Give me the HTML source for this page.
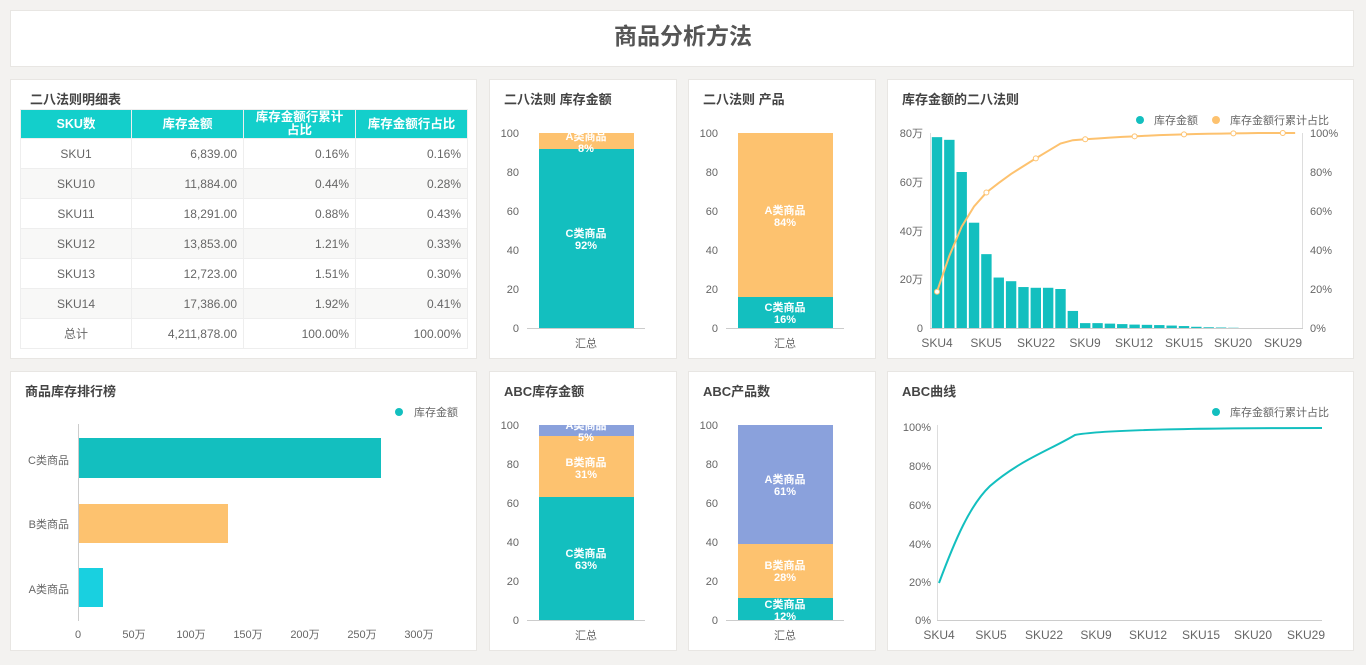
<!DOCTYPE html>
<html><head><meta charset="utf-8"><style>
*{margin:0;padding:0;box-sizing:border-box}
body{width:1366px;height:665px;background:#f3f2f0;font-family:"Liberation Sans","Noto Sans CJK SC",sans-serif;position:relative;overflow:hidden;color:#555}
.p{position:absolute;background:#fff;border:1px solid #e8e6e3}
.t{position:absolute;font-size:13px;font-weight:bold;color:#444}
svg{position:absolute;left:0;top:0}
table{position:absolute;left:20px;top:109px;width:447px;border-collapse:collapse;font-size:12px;color:#666;table-layout:fixed}
td,th{border:1px solid #eee;height:30px;padding:0 6px}
th{background:#13cfcb;color:#fff;font-size:12.5px;height:29px;line-height:13px;overflow:hidden}
th div{height:28px;overflow:hidden;padding-top:1px}
td{text-align:right}td:first-child{text-align:center}
tr:nth-child(odd) td{background:#f8f8f7}
</style></head><body>
<div class="p" style="left:10px;top:10px;width:1344px;height:57px"></div>
<div style="position:absolute;left:0;width:1366px;top:17px;text-align:center;font-size:23px;font-weight:bold;color:#555">商品分析方法</div>

<div class="p" style="left:10px;top:79px;width:467px;height:280px"></div>
<div class="p" style="left:489px;top:79px;width:188px;height:280px"></div>
<div class="p" style="left:688px;top:79px;width:188px;height:280px"></div>
<div class="p" style="left:887px;top:79px;width:467px;height:280px"></div>
<div class="p" style="left:10px;top:371px;width:467px;height:280px"></div>
<div class="p" style="left:489px;top:371px;width:188px;height:280px"></div>
<div class="p" style="left:688px;top:371px;width:188px;height:280px"></div>
<div class="p" style="left:887px;top:371px;width:467px;height:280px"></div>

<div class="t" style="left:30px;top:89px">二八法则明细表</div>
<div class="t" style="left:504px;top:89px">二八法则 库存金额</div>
<div class="t" style="left:703px;top:89px">二八法则 产品</div>
<div class="t" style="left:902px;top:89px">库存金额的二八法则</div>
<div class="t" style="left:25px;top:381px">商品库存排行榜</div>
<div class="t" style="left:504px;top:381px">ABC库存金额</div>
<div class="t" style="left:703px;top:381px">ABC产品数</div>
<div class="t" style="left:902px;top:381px">ABC曲线</div>

<table>
<colgroup><col style="width:111px"><col style="width:112px"><col style="width:112px"><col style="width:112px"></colgroup>
<tr><th><div style="padding-top:8px">SKU数</div></th><th><div style="padding-top:8px">库存金额</div></th><th><div>库存金额行累计占比</div></th><th><div style="padding-top:8px">库存金额行占比</div></th></tr>
<tr><td>SKU1</td><td>6,839.00</td><td>0.16%</td><td>0.16%</td></tr>
<tr><td>SKU10</td><td>11,884.00</td><td>0.44%</td><td>0.28%</td></tr>
<tr><td>SKU11</td><td>18,291.00</td><td>0.88%</td><td>0.43%</td></tr>
<tr><td>SKU12</td><td>13,853.00</td><td>1.21%</td><td>0.33%</td></tr>
<tr><td>SKU13</td><td>12,723.00</td><td>1.51%</td><td>0.30%</td></tr>
<tr><td>SKU14</td><td>17,386.00</td><td>1.92%</td><td>0.41%</td></tr>
<tr><td style="background:#fff">总计</td><td style="background:#fff">4,211,878.00</td><td style="background:#fff">100.00%</td><td style="background:#fff">100.00%</td></tr>
</table>

<svg width="1366" height="665" font-family="Liberation Sans, Noto Sans CJK SC, sans-serif" font-size="11" fill="#666">
<g text-anchor="end"><text x="519" y="137">100</text><text x="519" y="176">80</text><text x="519" y="215">60</text><text x="519" y="254">40</text><text x="519" y="293">20</text><text x="519" y="332">0</text></g>
<line x1="527" y1="328.5" x2="645" y2="328.5" stroke="#ccc"/>
<rect x="539" y="133" width="95" height="16" fill="#fdc26f"/><rect x="539" y="149" width="95" height="179" fill="#13bfbf"/>
<g fill="#fff" font-weight="bold" text-anchor="middle"><text x="586" y="140">A类商品</text><text x="586" y="152">8%</text><text x="586" y="237">C类商品</text><text x="586" y="249">92%</text></g>
<text x="586" y="347" text-anchor="middle">汇总</text>
<g text-anchor="end"><text x="718" y="137">100</text><text x="718" y="176">80</text><text x="718" y="215">60</text><text x="718" y="254">40</text><text x="718" y="293">20</text><text x="718" y="332">0</text></g>
<line x1="726" y1="328.5" x2="844" y2="328.5" stroke="#ccc"/>
<rect x="738" y="133" width="95" height="164" fill="#fdc26f"/><rect x="738" y="297" width="95" height="31" fill="#13bfbf"/>
<g fill="#fff" font-weight="bold" text-anchor="middle"><text x="785" y="214">A类商品</text><text x="785" y="226">84%</text><text x="785" y="311">C类商品</text><text x="785" y="323">16%</text></g>
<text x="785" y="347" text-anchor="middle">汇总</text>
<g text-anchor="end"><text x="519" y="429">100</text><text x="519" y="468">80</text><text x="519" y="507">60</text><text x="519" y="546">40</text><text x="519" y="585">20</text><text x="519" y="624">0</text></g>
<line x1="527" y1="620.5" x2="645" y2="620.5" stroke="#ccc"/>
<rect x="539" y="425" width="95" height="11" fill="#8aa1dc"/><rect x="539" y="436" width="95" height="61" fill="#fdc26f"/><rect x="539" y="497" width="95" height="123" fill="#13bfbf"/>
<g fill="#fff" font-weight="bold" text-anchor="middle"><text x="586" y="429">A类商品</text><text x="586" y="441">5%</text><text x="586" y="466">B类商品</text><text x="586" y="478">31%</text><text x="586" y="557">C类商品</text><text x="586" y="569">63%</text></g>
<text x="586" y="639" text-anchor="middle">汇总</text>
<g text-anchor="end"><text x="718" y="429">100</text><text x="718" y="468">80</text><text x="718" y="507">60</text><text x="718" y="546">40</text><text x="718" y="585">20</text><text x="718" y="624">0</text></g>
<line x1="726" y1="620.5" x2="844" y2="620.5" stroke="#ccc"/>
<rect x="738" y="425" width="95" height="119" fill="#8aa1dc"/><rect x="738" y="544" width="95" height="54" fill="#fdc26f"/><rect x="738" y="598" width="95" height="22" fill="#13bfbf"/>
<g fill="#fff" font-weight="bold" text-anchor="middle"><text x="785" y="483">A类商品</text><text x="785" y="495">61%</text><text x="785" y="569">B类商品</text><text x="785" y="581">28%</text><text x="785" y="608">C类商品</text><text x="785" y="620">12%</text></g>
<text x="785" y="639" text-anchor="middle">汇总</text>
<circle cx="399" cy="412" r="4" fill="#13bfbf"/><text x="414" y="416">库存金额</text>
<line x1="78.5" y1="424" x2="78.5" y2="621" stroke="#ccc"/>
<rect x="79" y="438" width="302" height="40" fill="#13bfbf"/><rect x="79" y="504" width="149" height="39" fill="#fdc26f"/><rect x="79" y="568" width="24" height="39" fill="#19d0e0"/>
<g text-anchor="end"><text x="69" y="464">C类商品</text><text x="69" y="528">B类商品</text><text x="69" y="593">A类商品</text></g>
<g text-anchor="middle"><text x="78" y="638">0</text><text x="134" y="638">50万</text><text x="191" y="638">100万</text><text x="248" y="638">150万</text><text x="305" y="638">200万</text><text x="362" y="638">250万</text><text x="419" y="638">300万</text></g>
<circle cx="1140" cy="120" r="4" fill="#13bfbf"/><text x="1154" y="124">库存金额</text>
<circle cx="1216" cy="120" r="4" fill="#fdc26f"/><text x="1230" y="124">库存金额行累计占比</text>
<g text-anchor="end"><text x="923" y="137">80万</text><text x="923" y="186">60万</text><text x="923" y="235">40万</text><text x="923" y="283">20万</text><text x="923" y="332">0</text></g>
<g><text x="1310" y="137">100%</text><text x="1310" y="176">80%</text><text x="1310" y="215">60%</text><text x="1310" y="254">40%</text><text x="1310" y="293">20%</text><text x="1310" y="332">0%</text></g>
<line x1="930.5" y1="133" x2="930.5" y2="328" stroke="#ddd"/><line x1="1302.5" y1="133" x2="1302.5" y2="328" stroke="#ddd"/>
<line x1="930" y1="328.5" x2="1303" y2="328.5" stroke="#ccc"/>
<g fill="#13bfbf" id="bars"></g>
<polyline id="pl" fill="none" stroke="#fdc26f" stroke-width="2"/>
<g id="pts"></g>
<g text-anchor="middle" font-size="12"><text x="937" y="347">SKU4</text><text x="986" y="347">SKU5</text><text x="1036" y="347">SKU22</text><text x="1085" y="347">SKU9</text><text x="1134" y="347">SKU12</text><text x="1184" y="347">SKU15</text><text x="1233" y="347">SKU20</text><text x="1283" y="347">SKU29</text></g>
<circle cx="1216" cy="412" r="4" fill="#13bfbf"/><text x="1230" y="416">库存金额行累计占比</text>
<g text-anchor="end"><text x="931" y="431">100%</text><text x="931" y="470">80%</text><text x="931" y="509">60%</text><text x="931" y="548">40%</text><text x="931" y="586">20%</text><text x="931" y="624">0%</text></g>
<line x1="937.5" y1="425" x2="937.5" y2="620" stroke="#ddd"/>
<line x1="937" y1="620.5" x2="1322" y2="620.5" stroke="#ccc"/>
<path d="M939,583 C955,540 970,505 990,486 C1020,460 1050,450 1075,435 C1100,430 1200,428 1322,428" fill="none" stroke="#13bfbf" stroke-width="2"/>
<g text-anchor="middle" font-size="12"><text x="939" y="639">SKU4</text><text x="991" y="639">SKU5</text><text x="1044" y="639">SKU22</text><text x="1096" y="639">SKU9</text><text x="1148" y="639">SKU12</text><text x="1201" y="639">SKU15</text><text x="1253" y="639">SKU20</text><text x="1306" y="639">SKU29</text></g>
</svg>
<script>
var v=[78.3,77.2,64,43.2,30.3,20.7,19.2,16.8,16.5,16.5,16,7,2,2,1.8,1.6,1.4,1.3,1.2,1,0.8,0.5,0.3,0.2,0.1,0,0,0,0,0];
var c=[18.6,37,52,62.3,69.5,74.4,79,83,87,90.8,94.6,96.3,96.8,97.2,97.6,98,98.3,98.6,98.9,99.1,99.3,99.5,99.6,99.7,99.8,99.9,100,100,100,100];
var ns="http://www.w3.org/2000/svg",b=document.getElementById('bars'),pts=document.getElementById('pts'),s=[];
for(var i=0;i<30;i++){var x=937+i*12.35;var h=v[i]*195/80;if(h>0){var r=document.createElementNS(ns,'rect');r.setAttribute('x',x-5.2);r.setAttribute('width',10.4);r.setAttribute('y',328-h);r.setAttribute('height',h);b.appendChild(r);}
var y=328-c[i]*1.95;s.push(x+','+y);if(i%4==0){var ci=document.createElementNS(ns,'circle');ci.setAttribute('cx',x);ci.setAttribute('cy',y);ci.setAttribute('r',2.5);ci.setAttribute('fill','#fff');ci.setAttribute('stroke','#fdc26f');pts.appendChild(ci);}}
document.getElementById('pl').setAttribute('points',s.join(' '));
</script>
</body></html>
